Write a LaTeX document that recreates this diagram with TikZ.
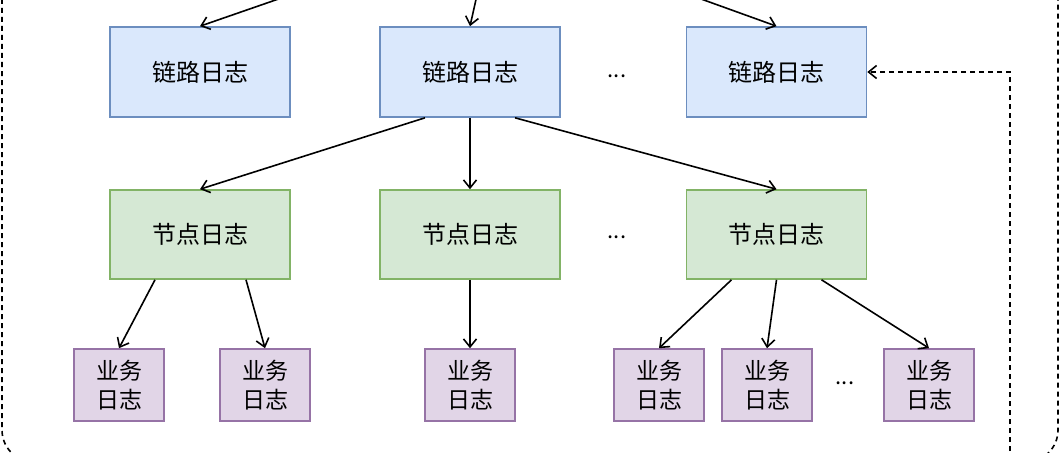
\documentclass[tikz,border=0pt]{standalone}
\usepackage{fontspec}
\setmainfont{Noto Sans CJK SC}
\usetikzlibrary{arrows.meta}
\definecolor{linkfill}{HTML}{DAE8FC}\definecolor{linkdraw}{HTML}{6C8EBF}
\definecolor{nodefill}{HTML}{D5E8D4}\definecolor{nodedraw}{HTML}{82B366}
\definecolor{bizfill}{HTML}{E1D5E7}\definecolor{bizdraw}{HTML}{9673A6}
\begin{document}
\begin{tikzpicture}[x=1pt,y=-1pt,
  box/.style={draw, line width=1.6pt, inner sep=0pt, font=\fontsize{24}{28}\selectfont},
  linkbox/.style={box, fill=linkfill, draw=linkdraw, minimum width=180pt, minimum height=90pt},
  nodebox/.style={box, fill=nodefill, draw=nodedraw, minimum width=180pt, minimum height=89pt},
  bizbox/.style={box, fill=bizfill, draw=bizdraw, minimum width=90pt, minimum height=72pt, align=center, font=\fontsize{23}{29}\selectfont},
  dots/.style={font=\fontsize{22}{24}\selectfont},
  arr/.style={-{Straight Barb[length=8pt,width=13pt]}, line width=1.6pt},
  darr/.style={arr, dash pattern=on 5pt off 4pt}]
\useasboundingbox (0,0) rectangle (1064,452);
\clip (0,0) rectangle (1064,452);
\fill[white] (0,0) rectangle (1064,452);
% outer dashed frame
\draw[line width=1.6pt, dash pattern=on 5pt off 4pt, rounded corners=32pt] (2,-60) rectangle (1058,462);
% link logs
\node[linkbox] (l1) at (200,72) {链路日志};
\node[linkbox] (l2) at (470,72) {链路日志};
\node[linkbox] (l3) at (776.5,72) {链路日志};
\node[dots] (ld) at (617,76) {...};
% node logs
\node[nodebox] (n1) at (200,234.5) {节点日志};
\node[nodebox] (n2) at (470,234.5) {节点日志};
\node[nodebox] (n3) at (776.5,234.5) {节点日志};
\node[dots] (nd) at (617,237) {...};
% business logs
\node[bizbox] (b1) at (119,385) {业务\\日志};
\node[bizbox] (b2) at (265,385) {业务\\日志};
\node[bizbox] (b3) at (470,385) {业务\\日志};
\node[bizbox] (b4) at (659,385) {业务\\日志};
\node[bizbox] (b5) at (767,385) {业务\\日志};
\node[bizbox] (b6) at (929,385) {业务\\日志};
\node[dots] (bd) at (845,383) {...};
% incoming from above
\coordinate (t1) at (290,-5);
\coordinate (t2) at (477,-5);
\coordinate (t3) at (690,-5);
\draw[arr] (t1) -- (l1.north);
\draw[arr] (t2) -- (l2.north);
\draw[arr] (t3) -- (l3.north);
% link -> nodes
\draw[arr] ([xshift=-45pt]l2.south) -- (n1.north);
\draw[arr] (l2.south) -- (n2.north);
\draw[arr] ([xshift=45pt]l2.south) -- (n3.north);
% nodes -> biz
\draw[arr] ([xshift=-45pt]n1.south) -- (b1.north);
\draw[arr] ([xshift=46pt]n1.south) -- (b2.north);
\draw[arr] (n2.south) -- (b3.north);
\draw[arr] ([xshift=-45pt]n3.south) -- (b4.north);
\draw[arr] (n3.south) -- (b5.north);
\draw[arr] ([xshift=45pt]n3.south) -- (b6.north);
% dashed feedback
\coordinate (fb) at (1010,460);
\draw[darr] (fb) |- (l3.east);
\end{tikzpicture}
\end{document}
